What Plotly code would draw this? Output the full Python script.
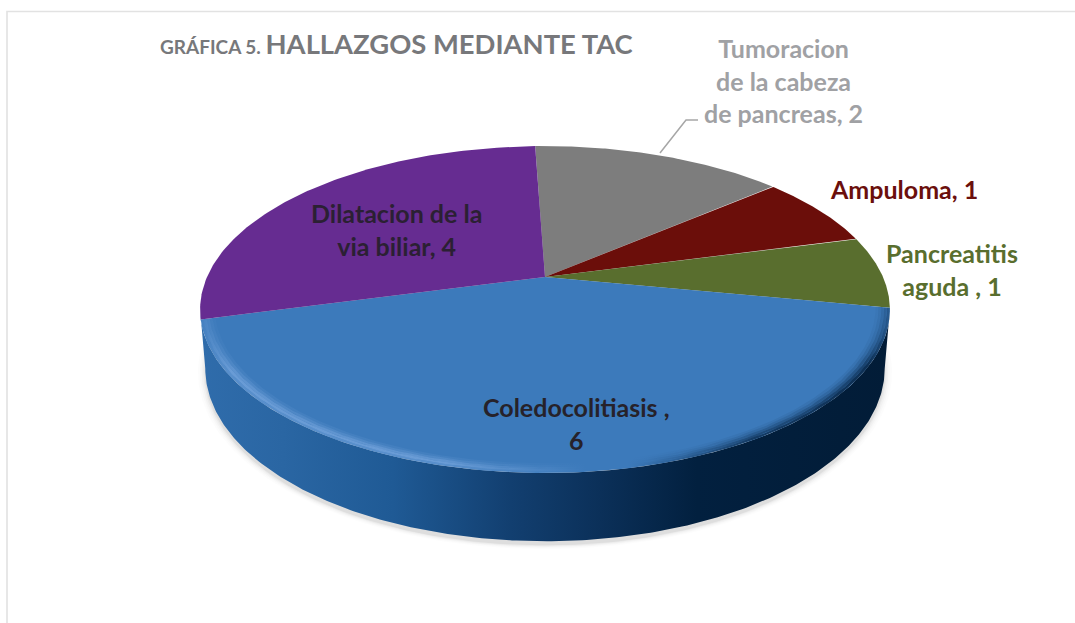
import numpy as np
import plotly.graph_objects as go

# ---- data ----
categories = ["Tumoracion<br>de la cabeza<br>de pancreas", "Ampuloma", "Pancreatitis<br>aguda ",
              "Coledocolitiasis ", "Dilatacion de la<br>via biliar"]
values = [2, 1, 1, 6, 4]
separators = [", ", ", ", ", ", ",<br>", ", "]
slice_colors = ["#7d7d7d", "#6b0e0a", "#596e2e", "#3c7abb", "#662c91"]
label_colors = ["#a0a1a4", "#6b0f0c", "#596e2e", "#26222a", "#2b2033"]
label_x = [783, 904, 952, 576, 396]
label_y = [80, 189, 269, 423, 229]

# ---- perspective disc geometry (pixel space) ----
CX, CY = 545.0, 277.0
A, B, K = 338.0, 157.0, 0.199
START = -2.0            # degrees clockwise from the far side
DEPTH, SHRINK = 57.0, 0.985
FONT = "Lato"


def project(psi_deg, r=1.0, depth=0.0, scale=1.0):
    psi = np.radians(psi_deg)
    X, Y = r * np.sin(psi), r * np.cos(psi)
    den = 1 + K * Y
    return CX + scale * A * X / den, CY - scale * B * Y / den + depth / den


def band(psi, r_out, r_in, d_out=0.0, d_in=0.0, s_out=1.0, s_in=1.0):
    x1, y1 = project(psi, r_out, d_out, s_out)
    x2, y2 = project(psi[::-1], r_in, d_in, s_in)
    return np.r_[x1, x2, x1[0]], np.r_[y1, y2, y1[0]]


fig = go.Figure()

# soft shadow under the disc
full = np.linspace(0, 360, 361)
for grow, alpha in zip([1.022, 1.016, 1.011, 1.006, 1.002], [0.012, 0.016, 0.022, 0.03, 0.05]):
    sx, sy = project(full, 1.0, DEPTH + 3, SHRINK * grow)
    fig.add_trace(go.Scatter(x=sx, y=sy, mode="lines", fill="toself", line=dict(width=0),
                             fillcolor=f"rgba(0,0,0,{alpha})", hoverinfo="skip", showlegend=False))

# side wall with horizontal gradient, between the silhouette tangents of the disc
tangent = np.degrees(np.arccos(-K))
front2 = np.linspace(tangent, 360 - tangent, 260)
wx, wy = band(front2, 1.0, 1.0, DEPTH, 0.0, SHRINK, 1.0)
fig.add_trace(go.Scatter(
    x=wx, y=wy, mode="lines", line=dict(width=0), fill="toself", hoverinfo="skip", showlegend=False,
    fillgradient=dict(type="horizontal", colorscale=[
        [0.0, "#2f6cab"], [0.12, "#2a66a3"], [0.28, "#1f5a95"], [0.45, "#123f70"],
        [0.58, "#0b3059"], [0.72, "#02203f"], [1.0, "#021c37"]])))

# top face slices
total = sum(values)
edges = START + np.cumsum([0] + values) / total * 360
for cat, val, c0, c1, col in zip(categories, values, edges[:-1], edges[1:], slice_colors):
    psi = np.linspace(c0, c1, 120)
    px, py = project(psi)
    fig.add_trace(go.Scatter(x=np.r_[CX, px, CX], y=np.r_[CY, py, CY], mode="lines",
                             line=dict(width=0), fill="toself", fillcolor=col,
                             name=cat.replace("<br>", " "), text=str(val), hoverinfo="skip",
                             showlegend=False))

# soft bevel on the front rim of the blue slice: light on the left, dark on the right
rim = np.linspace(edges[3] + 0.1, edges[4] - 0.1, 300)
light_alpha = [0.45, 0.7, 0.55, 0.3, 0.12]
dark_alpha = [0.8, 0.6, 0.38, 0.2, 0.08]
for i, (la, da) in enumerate(zip(light_alpha, dark_alpha)):
    scale = [
        [0.0, f"rgba(125,170,225,{la * 0.3:.3f})"], [0.04, f"rgba(125,170,225,{la:.3f})"],
        [0.35, f"rgba(125,170,225,{la:.3f})"], [0.56, "rgba(125,170,225,0)"],
        [0.62, "rgba(2,30,60,0)"], [0.8, f"rgba(2,30,60,{da * 0.85:.3f})"],
        [0.97, f"rgba(2,30,60,{da:.3f})"], [1.0, f"rgba(2,30,60,{da * 0.4:.3f})"]]
    bx, by = band(rim, 1 - 0.008 * i, 1 - 0.008 * (i + 1))
    fig.add_trace(go.Scatter(x=bx, y=by, mode="lines", line=dict(width=0), fill="toself",
                             fillgradient=dict(type="horizontal", colorscale=scale),
                             hoverinfo="skip", showlegend=False))

# data labels
for cat, val, sep, lx, ly, col in zip(categories, values, separators, label_x, label_y, label_colors):
    fig.add_annotation(x=lx, y=ly, text=f"<b>{cat}{sep}{val}</b>", showarrow=False, align="center",
                       font=dict(family=FONT, size=25, color=col), xanchor="center", yanchor="middle")

# leader line for the grey slice
fig.add_trace(go.Scatter(x=[660, 686, 698], y=[153, 120, 120], mode="lines",
                         line=dict(color="#a6a6a6", width=1.5), hoverinfo="skip", showlegend=False))

fig.update_layout(
    width=1075, height=623, margin=dict(l=0, r=0, t=0, b=0),
    paper_bgcolor="white", plot_bgcolor="white", showlegend=False,
    title=dict(
        text="<b><span style='font-size:19px'>GRÁFICA 5. </span>"
             "<span style='font-size:27.4px'>HALLAZGOS MEDIANTE TAC</span></b>",
        font=dict(family=FONT, color="#77787b"), x=160 / 1075, xanchor="left",
        y=1 - 48 / 623, yanchor="middle"),
    xaxis=dict(range=[0, 1075], visible=False, fixedrange=True),
    yaxis=dict(range=[623, 0], visible=False, fixedrange=True),
    shapes=[dict(type="path", path="M 7 623 L 7 11.5 L 1075 11.5", xref="x", yref="y",
                 line=dict(color="#e2e2e2", width=1.6))],
)
fig.write_html("out.html", config=dict(displayModeBar=False),
               post_script="document.body.style.margin='0';document.documentElement.style.overflow='hidden';")
